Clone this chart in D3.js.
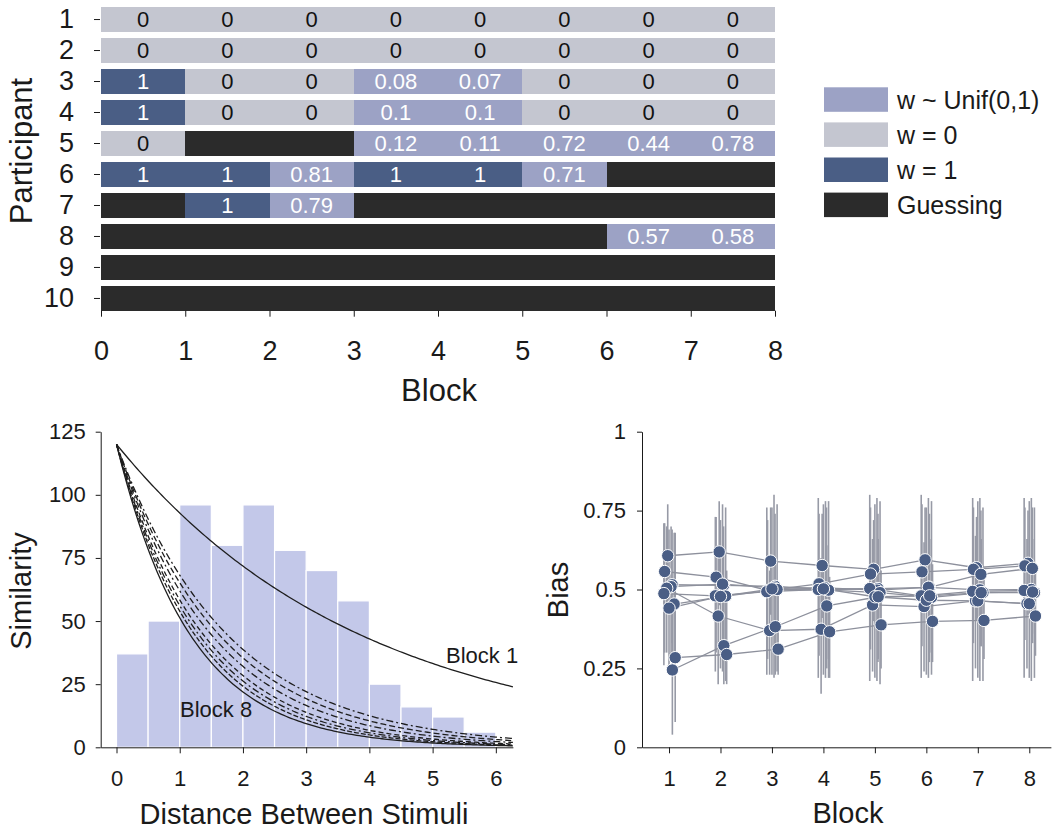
<!DOCTYPE html>
<html>
<head>
<meta charset="utf-8">
<script src="https://cdn.jsdelivr.net/npm/d3@7"></script>
<style>
  body { margin: 0; background: #fff; }
  svg { display: block; }
  text { font-family: "Liberation Sans", Arial, Helvetica, sans-serif; }
</style>
</head>
<body>
<div id="chart"></div>
<script>
// ---------- data: top panel (latent mode per participant x block) ----------
const participants = [1, 2, 3, 4, 5, 6, 7, 8, 9, 10];
const blocks = [1, 2, 3, 4, 5, 6, 7, 8];
// u = w ~ Unif(0,1), 0 = w = 0, 1 = w = 1, g = guessing
const modes = [
  ["0", "0", "0", "0", "0", "0", "0", "0"],
  ["0", "0", "0", "0", "0", "0", "0", "0"],
  ["1", "0", "0", "u", "u", "0", "0", "0"],
  ["1", "0", "0", "u", "u", "0", "0", "0"],
  ["0", "g", "g", "u", "u", "u", "u", "u"],
  ["1", "1", "u", "1", "1", "u", "g", "g"],
  ["g", "1", "u", "g", "g", "g", "g", "g"],
  ["g", "g", "g", "g", "g", "g", "u", "u"],
  ["g", "g", "g", "g", "g", "g", "g", "g"],
  ["g", "g", "g", "g", "g", "g", "g", "g"]
];
const weights = [
  ["0", "0", "0", "0", "0", "0", "0", "0"],
  ["0", "0", "0", "0", "0", "0", "0", "0"],
  ["1", "0", "0", "0.08", "0.07", "0", "0", "0"],
  ["1", "0", "0", "0.1", "0.1", "0", "0", "0"],
  ["0", "", "", "0.12", "0.11", "0.72", "0.44", "0.78"],
  ["1", "1", "0.81", "1", "1", "0.71", "", ""],
  ["", "1", "0.79", "", "", "", "", ""],
  ["", "", "", "", "", "", "0.57", "0.58"],
  ["", "", "", "", "", "", "", ""],
  ["", "", "", "", "", "", "", ""]
];
const legendKeys = ["u", "0", "1", "g"];
const legendLabels = ["w ~ Unif(0,1)", "w = 0", "w = 1", "Guessing"];

// ---------- data: bottom-left (distance histogram + similarity curves) ----------
const binStarts = [0, 0.5, 1, 1.5, 2, 2.5, 3, 3.5, 4, 4.5, 5, 5.5];
const binWidth = 0.5;
const binCounts = [37, 50, 96, 80, 96, 78, 70, 58, 25, 16, 12, 6];
const similarityAtZero = 120;
// decay rate of the similarity curve for blocks 1..8
const decayRates = [0.257, 0.565, 0.61, 0.66, 0.72, 0.76, 0.8, 0.85];
const curveDash = ["", "7,3,2,3", "6,3", "7,3,2,3", "5,3", "7,3,2,3", "5,2", ""];

// ---------- data: bottom-right (bias per participant and block) ----------
const biasJitter = [-0.025, -0.085, 0.06, 0.04, -0.045, -0.1, 0.1, 0.0, 0.065, 0.12];
const biasMean = [
  [0.607, 0.619, 0.590, 0.576, 0.564, 0.594, 0.569, 0.583],
  [0.557, 0.539, 0.497, 0.518, 0.549, 0.556, 0.564, 0.575],
  [0.515, 0.513, 0.510, 0.500, 0.503, 0.507, 0.548, 0.567],
  [0.509, 0.517, 0.505, 0.505, 0.498, 0.507, 0.499, 0.500],
  [0.504, 0.416, 0.370, 0.374, 0.451, 0.446, 0.464, 0.455],
  [0.487, 0.480, 0.493, 0.500, 0.503, 0.480, 0.494, 0.497],
  [0.454, 0.479, 0.500, 0.498, 0.490, 0.475, 0.490, 0.490],
  [0.441, 0.478, 0.502, 0.502, 0.477, 0.466, 0.464, 0.455],
  [0.245, 0.322, 0.382, 0.448, 0.477, 0.480, 0.490, 0.492],
  [0.284, 0.294, 0.311, 0.366, 0.388, 0.399, 0.402, 0.416]
];
const biasLow = [
  [0.44, 0.45, 0.42, 0.41, 0.40, 0.43, 0.40, 0.42],
  [0.30, 0.30, 0.28, 0.29, 0.31, 0.32, 0.33, 0.34],
  [0.33, 0.32, 0.30, 0.28, 0.27, 0.27, 0.32, 0.36],
  [0.27, 0.24, 0.22, 0.22, 0.21, 0.22, 0.21, 0.21],
  [0.30, 0.20, 0.23, 0.17, 0.24, 0.24, 0.25, 0.25],
  [0.26, 0.24, 0.23, 0.22, 0.21, 0.22, 0.21, 0.22],
  [0.30, 0.21, 0.24, 0.22, 0.20, 0.23, 0.21, 0.22],
  [0.26, 0.25, 0.23, 0.23, 0.22, 0.23, 0.22, 0.22],
  [0.04, 0.20, 0.23, 0.25, 0.28, 0.30, 0.32, 0.33],
  [0.08, 0.20, 0.23, 0.22, 0.25, 0.27, 0.28, 0.29]
];
const biasHigh = [
  [0.77, 0.78, 0.76, 0.74, 0.72, 0.76, 0.73, 0.75],
  [0.71, 0.73, 0.72, 0.74, 0.76, 0.77, 0.76, 0.76],
  [0.69, 0.70, 0.74, 0.76, 0.74, 0.74, 0.75, 0.76],
  [0.70, 0.77, 0.80, 0.78, 0.79, 0.79, 0.79, 0.79],
  [0.70, 0.64, 0.56, 0.60, 0.66, 0.65, 0.67, 0.66],
  [0.71, 0.73, 0.76, 0.79, 0.80, 0.80, 0.79, 0.79],
  [0.68, 0.76, 0.77, 0.78, 0.78, 0.78, 0.76, 0.76],
  [0.69, 0.72, 0.76, 0.77, 0.77, 0.76, 0.78, 0.78],
  [0.47, 0.50, 0.58, 0.64, 0.66, 0.66, 0.66, 0.66],
  [0.68, 0.56, 0.50, 0.54, 0.56, 0.58, 0.56, 0.57]
];

const FONT = '"Liberation Sans", Arial, Helvetica, sans-serif';
const INK = "#1a1a1a";
const modeColor = { u: "#9ca2c5", "0": "#c4c6d0", "1": "#4a5e85", g: "#2b2b2b" };

const svg = d3.select("#chart").append("svg")
  .attr("width", 1062)
  .attr("height", 830);

function styleAxis(g, size) {
  g.attr("font-family", FONT).attr("font-size", size).attr("color", INK);
  g.selectAll("text").attr("fill", INK);
}

// ================= top panel =================
const xTop = d3.scaleLinear().domain([0, 8]).range([101, 775]);
const yTop = d3.scaleBand().domain(participants).range([7.3, 310.7]).paddingInner(0.21);

const cells = [];
participants.forEach((p, i) => {
  blocks.forEach((b, j) => {
    cells.push({ p, b, mode: modes[i][j], label: weights[i][j] });
  });
});

const topPanel = svg.append("g");
topPanel.selectAll("rect.cell")
  .data(cells)
  .join("rect")
  .attr("class", "cell")
  .attr("x", d => xTop(d.b - 1))
  .attr("width", d => xTop(d.b) - xTop(d.b - 1))
  .attr("y", d => yTop(d.p))
  .attr("height", yTop.bandwidth())
  .attr("fill", d => modeColor[d.mode])
  .attr("shape-rendering", "crispEdges");

topPanel.selectAll("text.cellLabel")
  .data(cells.filter(d => d.label !== ""))
  .join("text")
  .attr("class", "cellLabel")
  .attr("x", d => (xTop(d.b - 1) + xTop(d.b)) / 2)
  .attr("y", d => yTop(d.p) + yTop.bandwidth() / 2)
  .attr("dy", "0.36em")
  .attr("text-anchor", "middle")
  .attr("font-size", 22)
  .attr("fill", d => d.mode === "0" ? "#111" : "#fff")
  .text(d => d.label);

const gyTop = topPanel.append("g")
  .attr("transform", "translate(100,0)")
  .call(d3.axisLeft(yTop).tickSize(6).tickPadding(20));
gyTop.select(".domain").remove();
styleAxis(gyTop, 27);

const gxTop = topPanel.append("g")
  .attr("transform", "translate(0,310.7)")
  .call(d3.axisBottom(xTop).ticks(8).tickSize(6).tickPadding(24));
gxTop.select(".domain").remove();
styleAxis(gxTop, 27);

topPanel.append("text")
  .attr("x", 439)
  .attr("y", 401)
  .attr("text-anchor", "middle")
  .attr("font-size", 31)
  .attr("fill", INK)
  .text("Block");

topPanel.append("text")
  .attr("transform", "translate(32,151) rotate(-90)")
  .attr("text-anchor", "middle")
  .attr("font-size", 31)
  .attr("fill", INK)
  .text("Participant");

// legend
const legend = svg.append("g").attr("transform", "translate(824,87.3)");
legendKeys.forEach((k, i) => {
  const row = legend.append("g").attr("transform", `translate(0,${i * 35.1})`);
  row.append("rect")
    .attr("width", 64)
    .attr("height", 24.5)
    .attr("fill", modeColor[k]);
  row.append("text")
    .attr("x", 73)
    .attr("y", 12.25)
    .attr("dy", "0.36em")
    .attr("font-size", 25)
    .attr("fill", INK)
    .text(legendLabels[i]);
});

// ================= bottom-left panel =================
const xSim = d3.scaleLinear().domain([-0.25, 6.27]).range([100.7, 512.9]);
const ySim = d3.scaleLinear().domain([0, 125]).range([747.3, 431.7]);
const sim = svg.append("g");

sim.selectAll("rect.bin")
  .data(binStarts.map((s, i) => ({ s, n: binCounts[i] })))
  .join("rect")
  .attr("class", "bin")
  .attr("x", d => xSim(d.s))
  .attr("width", d => xSim(d.s + binWidth) - xSim(d.s))
  .attr("y", d => ySim(d.n))
  .attr("height", d => ySim(0) - ySim(d.n))
  .attr("fill", "#c3c8e9")
  .attr("stroke", "#fff")
  .attr("stroke-width", 1.2);

const distances = d3.range(0, 6.27, 0.04).concat([6.27]);
const simLine = d3.line().x(d => xSim(d[0])).y(d => ySim(d[1]));
decayRates.forEach((rate, i) => {
  const pts = distances.map(d => [d, similarityAtZero * Math.exp(-rate * d)]);
  sim.append("path")
    .attr("d", simLine(pts))
    .attr("fill", "none")
    .attr("stroke", "#1e1e1e")
    .attr("stroke-width", 1.3)
    .attr("stroke-dasharray", curveDash[i] || null);
});

const gySim = sim.append("g")
  .attr("transform", `translate(${xSim.range()[0]},0)`)
  .call(d3.axisLeft(ySim).tickValues([0, 25, 50, 75, 100, 125]).tickSize(5).tickSizeOuter(0).tickPadding(10));
styleAxis(gySim, 22);

const gxSim = sim.append("g")
  .attr("transform", `translate(0,${ySim(0)})`)
  .call(d3.axisBottom(xSim).tickValues([0, 1, 2, 3, 4, 5, 6]).tickFormat(d3.format("d"))
    .tickSize(6).tickSizeOuter(0).tickPadding(17));
styleAxis(gxSim, 22);

sim.append("text")
  .attr("x", 446).attr("y", 663)
  .attr("font-size", 22).attr("fill", INK)
  .text("Block 1");
sim.append("text")
  .attr("x", 180).attr("y", 717)
  .attr("font-size", 22).attr("fill", INK)
  .text("Block 8");

sim.append("text")
  .attr("x", 304).attr("y", 824)
  .attr("text-anchor", "middle")
  .attr("font-size", 29).attr("fill", INK)
  .text("Distance Between Stimuli");
sim.append("text")
  .attr("transform", "translate(31,591) rotate(-90)")
  .attr("text-anchor", "middle")
  .attr("font-size", 29).attr("fill", INK)
  .text("Similarity");

// ================= bottom-right panel =================
const xBias = d3.scaleLinear().domain([0.475, 8.42]).range([642, 1050.9]);
const yBias = d3.scaleLinear().domain([0, 1]).range([747.3, 431.7]);
const bias = svg.append("g");

const biasRows = participants.map((p, i) => blocks.map((b, j) => ({
  p, b,
  x: b + biasJitter[i],
  m: biasMean[i][j],
  lo: biasLow[i][j],
  hi: biasHigh[i][j]
})));

// error bars
bias.selectAll("line.err")
  .data(biasRows.flat())
  .join("line")
  .attr("class", "err")
  .attr("x1", d => xBias(d.x)).attr("x2", d => xBias(d.x))
  .attr("y1", d => yBias(d.lo)).attr("y2", d => yBias(d.hi))
  .attr("stroke", "#979aa6")
  .attr("stroke-width", 1.6);

// participant trajectories
const biasLine = d3.line().x(d => xBias(d.x)).y(d => yBias(d.m));
bias.selectAll("path.traj")
  .data(biasRows)
  .join("path")
  .attr("class", "traj")
  .attr("d", biasLine)
  .attr("fill", "none")
  .attr("stroke", "#8d909c")
  .attr("stroke-width", 1.3);

bias.selectAll("circle.pt")
  .data(biasRows.flat())
  .join("circle")
  .attr("class", "pt")
  .attr("cx", d => xBias(d.x))
  .attr("cy", d => yBias(d.m))
  .attr("r", 6.2)
  .attr("fill", "#4a5e85")
  .attr("stroke", "#fff")
  .attr("stroke-width", 1);

const gyBias = bias.append("g")
  .attr("transform", `translate(${xBias.range()[0]},0)`)
  .call(d3.axisLeft(yBias).tickValues([0, 0.25, 0.5, 0.75, 1]).tickFormat(d3.format("~g"))
    .tickSize(5).tickSizeOuter(0).tickPadding(11));
styleAxis(gyBias, 22);

const gxBias = bias.append("g")
  .attr("transform", `translate(0,${yBias(0)})`)
  .call(d3.axisBottom(xBias).tickValues(blocks).tickSize(6).tickSizeOuter(0).tickPadding(17));
styleAxis(gxBias, 22);

bias.append("text")
  .attr("x", 848).attr("y", 823)
  .attr("text-anchor", "middle")
  .attr("font-size", 29).attr("fill", INK)
  .text("Block");
bias.append("text")
  .attr("transform", "translate(568,590) rotate(-90)")
  .attr("text-anchor", "middle")
  .attr("font-size", 29).attr("fill", INK)
  .text("Bias");
</script>
</body>
</html>
